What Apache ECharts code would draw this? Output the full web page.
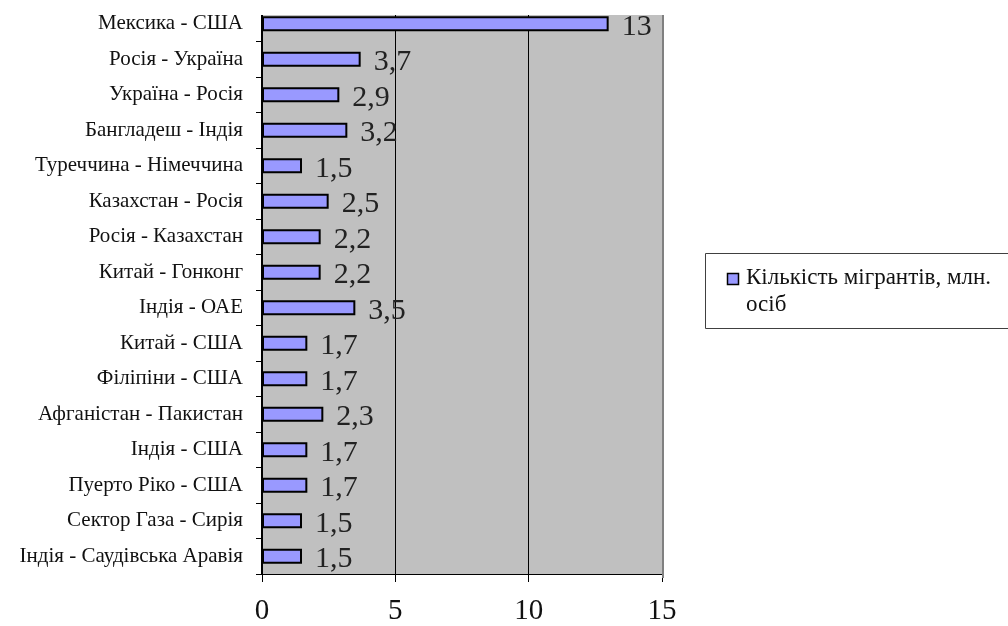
<!DOCTYPE html>
<html>
<head>
<meta charset="utf-8">
<script src="https://cdn.jsdelivr.net/npm/echarts@6/dist/echarts.min.js"></script>
<style>html,body{margin:0;padding:0;background:#fff;}#c{width:1008px;height:626px;}</style>
</head>
<body>
<div id="c"></div>
<script>
const categories = ['Мексика - США','Росія - Україна','Україна - Росія','Бангладеш - Індія','Туреччина - Німеччина','Казахстан - Росія','Росія - Казахстан','Китай - Гонконг','Індія - ОАЕ','Китай - США','Філіпіни - США','Афганістан - Пакистан','Індія - США','Пуерто Ріко - США','Сектор Газа - Сирія','Індія - Саудівська Аравія'];
const values = [13, 3.7, 2.9, 3.2, 1.5, 2.5, 2.2, 2.2, 3.5, 1.7, 1.7, 2.3, 1.7, 1.7, 1.5, 1.5];
const seriesName = 'Кількість мігрантів, млн. осіб';
const xTicks = [0, 5, 10, 15];

const FONT = '"Liberation Serif", "Times New Roman", serif';
const chart = echarts.init(document.getElementById('c'));
chart.setOption({
  animation: false,
  backgroundColor: '#fff',
  grid: { left: 262, right: 346, top: 6, bottom: 48, show: true, backgroundColor: '#C0C0C0', borderWidth: 0 },
  xAxis: {
    type: 'value', min: xTicks[0], max: xTicks[xTicks.length-1], interval: 5,
    axisLine: { show: true, lineStyle: { color: '#000', width: 1 } },
    axisTick: { show: true, length: 8, lineStyle: { color: '#000' } },
    axisLabel: { fontFamily: FONT, fontSize: 29, color: '#111', margin: 23 },
    splitLine: { show: true, lineStyle: { color: ['#000', '#000', '#000', '#808080'], width: 1 } }
  },
  yAxis: {
    type: 'category', data: categories, inverse: true,
    axisLine: { show: true, lineStyle: { color: '#000', width: 2 } },
    axisTick: { show: true, length: 6, lineStyle: { color: '#000' } },
    axisLabel: { fontFamily: FONT, fontSize: 21, color: '#111', margin: 19 }
  },
  series: [{
    name: seriesName, type: 'bar', data: values, barWidth: 15, z: 2,
    itemStyle: { color: '#9999FF', borderColor: '#000', borderWidth: 2 },
    label: { show: true, position: 'right', distance: 13, offset: [0, 3], fontFamily: FONT, fontSize: 30, color: '#222',
      formatter: p => String(p.value).replace('.', ',') }
  }],
  graphic: [
    { type: 'rect', z: 1, shape: { x: 240, y: 0, width: 440, height: 15 }, style: { fill: '#fff' } },
    { type: 'line', z: 1, shape: { x1: 663, y1: 15, x2: 663, y2: 578 }, style: { stroke: '#808080', lineWidth: 2 } },
    { type: 'rect', z: 10, shape: { x: 705.5, y: 253.5, width: 320, height: 75 }, style: { fill: '#fff', stroke: '#404040', lineWidth: 1 } },
    { type: 'rect', z: 11, shape: { x: 727.5, y: 273.5, width: 11, height: 11 }, style: { fill: '#9999FF', stroke: '#000', lineWidth: 1.5 } },
    { type: 'text', z: 11, x: 746, y: 264, style: { text: 'Кількість мігрантів, млн.\nосіб', font: '23px ' + FONT, fill: '#111', lineHeight: 27 } }
  ]
});
</script>
</body>
</html>
